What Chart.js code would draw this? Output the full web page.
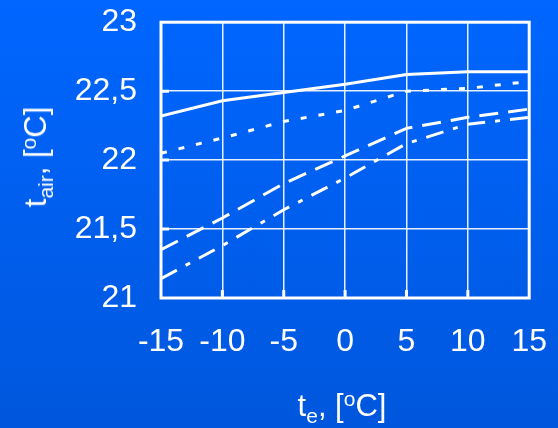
<!DOCTYPE html>
<html>
<head>
<meta charset="utf-8">
<script src="https://cdn.jsdelivr.net/npm/chart.js@4"></script>
<style>
  html, body { margin: 0; padding: 0; }
  #wrap {
    position: relative; width: 558px; height: 428px; overflow: hidden;
    background: linear-gradient(to bottom, #0066ff, #0057dd);
    font-family: "Liberation Sans", Arial, sans-serif; color: #fff;
  }
  /* canvas shifted so the plot lands where it sits in the original */
  canvas { position: absolute; left: 0; top: -21px; }
  .title { position: absolute; font-size: 31px; white-space: nowrap; line-height: 1; }
  .title sub { font-size: 21px; vertical-align: -7px; }
  .title sup { font-size: 21px; vertical-align: 10px; }
  #ytitle { left: 37px; top: 157px; transform: translate(-50%, -50%) rotate(-90deg); }
  #xtitle { left: 342px; top: 407px; transform: translate(-50%, -50%); }
</style>
</head>
<body>
<div id="wrap">
  <canvas id="chart" width="572" height="449"></canvas>
  <div class="title" id="ytitle">t<sub>air</sub>, [<sup>o</sup>C]</div>
  <div class="title" id="xtitle">t<sub>e</sub>, [<sup>o</sup>C]</div>
</div>
<script>
// outdoor temperature t_e
const teValues = [-15, -10, -5, 0, 5, 10, 15];
// indoor air temperature for the four cases
const solidLine = [22.32, 22.43, 22.49, 22.55, 22.62, 22.64, 22.64];
const dottedLine = [22.05, 22.16, 22.28, 22.36, 22.50, 22.52, 22.57];
const dashedLine = [21.35, 21.58, 21.83, 22.03, 22.23, 22.31, 22.37];
const dashDotLine = [21.14, 21.38, 21.64, 21.87, 22.12, 22.26, 22.31];

const yTicks = [21, 21.5, 22, 22.5, 23];
const xTicks = [-15, -10, -5, 0, 5, 10, 15];

const toPoints = (vals) => vals.map((v, i) => ({ x: teValues[i], y: v }));

function lineSet(vals, dash) {
  return {
    data: toPoints(vals),
    borderColor: "#ffffff",
    borderWidth: 3,
    borderDash: dash,
    pointRadius: 0,
    tension: 0,
    fill: false,
  };
}

// white frame round the plot plus short inner tick marks
const framePlugin = {
  id: "frame",
  afterDatasetsDraw(chart) {
    const { ctx, chartArea: a, scales } = chart;
    ctx.save();
    ctx.strokeStyle = "#ffffff";
    ctx.lineWidth = 3;
    ctx.strokeRect(a.left, a.top, a.right - a.left, a.bottom - a.top);
    ctx.beginPath();
    xTicks.slice(1, -1).forEach((t) => {
      const x = scales.x.getPixelForValue(t);
      ctx.moveTo(x, a.bottom);
      ctx.lineTo(x, a.bottom - 8);
    });
    yTicks.slice(1, -1).forEach((t) => {
      const y = scales.y.getPixelForValue(t);
      ctx.moveTo(a.left, y);
      ctx.lineTo(a.left + 8, y);
    });
    ctx.stroke();
    ctx.restore();
  },
};

const ctx = document.getElementById("chart").getContext("2d");
new Chart(ctx, {
  type: "line",
  data: {
    datasets: [
      lineSet(solidLine, []),
      lineSet(dottedLine, [6, 12]),
      lineSet(dashedLine, [19, 10]),
      lineSet(dashDotLine, [18, 10, 5, 10]),
    ],
  },
  options: {
    responsive: false,
    animation: false,
    layout: { padding: 0 },
    plugins: { legend: { display: false }, tooltip: { enabled: false } },
    scales: {
      x: {
        type: "linear",
        min: -15,
        max: 15,
        afterBuildTicks: (s) => { s.ticks = xTicks.map((v) => ({ value: v })); },
        afterFit: (s) => { s.height = 130; },
        grid: { color: "rgba(255,255,255,0.9)", lineWidth: 1.5, drawTicks: false },
        border: { display: false },
        ticks: {
          color: "#ffffff",
          padding: 25,
          maxRotation: 0,
          font: { family: "Liberation Sans", size: 32 },
        },
      },
      y: {
        min: 21,
        max: 23,
        afterBuildTicks: (s) => { s.ticks = yTicks.map((v) => ({ value: v })); },
        afterFit: (s) => { s.width = 161; },
        grid: { color: "rgba(255,255,255,0.9)", lineWidth: 1.5, drawTicks: false },
        border: { display: false },
        ticks: {
          color: "#ffffff",
          padding: 24,
          font: { family: "Liberation Sans", size: 32 },
          callback: (v) => String(v).replace(".", ","),
        },
      },
    },
  },
  plugins: [framePlugin],
});
</script>
</body>
</html>
